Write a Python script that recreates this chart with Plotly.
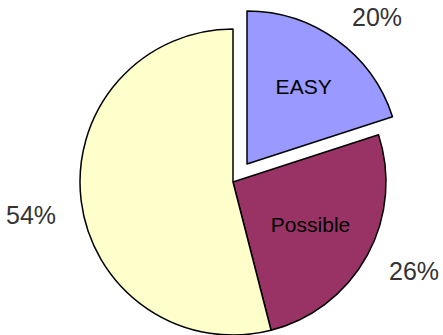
import math
import plotly.graph_objects as go

# Slice data
labels = ["EASY", "Possible", ""]
values = [20, 26, 54]
colors = ["#9999FF", "#993366", "#FFFFCC"]

W, H = 443, 335
CLEAR = "rgba(0,0,0,0)"
FONT = "Liberation Sans, Arial, sans-serif"

# Pie geometry in pixels: the main pie and the exploded first slice
R = 153
MAIN_C = (233, 182)
EXPLODE = (14, -18)
EXPLODED_C = (MAIN_C[0] + EXPLODE[0], MAIN_C[1] + EXPLODE[1])
HALF_W = 190
# horizontal / vertical distance of the percentage labels from the pie centre
LABEL_DX, LABEL_DY = 176, 158


def domain(center):
    cx, cy = center
    return dict(
        x=[(cx - HALF_W) / W, (cx + HALF_W) / W],
        y=[max(0, (H - cy - R) / H), min(1, (H - cy + R) / H)],
    )


def pick(idx, on, off):
    return [on if i in idx else off for i in range(len(values))]


common = dict(
    labels=labels,
    values=values,
    sort=False,
    direction="clockwise",
    rotation=0,
    showlegend=False,
    hoverinfo="skip",
    textinfo="text",
    textposition="inside",
    insidetextorientation="horizontal",
    insidetextfont=dict(family=FONT, size=21, color="#000000"),
)

fig = go.Figure()

# Main pie: "Possible" and the unlabelled slice
main_idx = {1, 2}
fig.add_trace(go.Pie(
    **common,
    domain=domain(MAIN_C),
    marker=dict(
        colors=[c if i in main_idx else CLEAR for i, c in enumerate(colors)],
        line=dict(color=pick(main_idx, "#000000", CLEAR), width=1.5),
    ),
    text=[l if i == 1 else "" for i, l in enumerate(labels)],
))

# Exploded "EASY" slice
fig.add_trace(go.Pie(
    **common,
    domain=domain(EXPLODED_C),
    marker=dict(
        colors=[c if i == 0 else CLEAR for i, c in enumerate(colors)],
        line=dict(color=pick({0}, "#000000", CLEAR), width=1.5),
    ),
    text=[l if i == 0 else "" for i, l in enumerate(labels)],
))

# Percentage labels outside each slice, placed along the slice's mid-angle
total = sum(values)
start = 0.0
for i, v in enumerate(values):
    frac = v / total
    theta = 2 * math.pi * (start + frac / 2)
    start += frac
    cx, cy = EXPLODED_C if i == 0 else MAIN_C
    sx, sy = math.sin(theta), -math.cos(theta)
    px = cx + LABEL_DX * sx
    py = cy + LABEL_DY * sy
    fig.add_annotation(
        x=px / W,
        y=1 - py / H,
        xref="paper",
        yref="paper",
        text=f"{frac * 100:.0f}%",
        showarrow=False,
        xanchor="left" if sx > 0 else "right",
        yanchor="top" if sy > 0 else "bottom",
        yshift=3,
        font=dict(family=FONT, size=25, color="#333333"),
    )

fig.update_layout(
    width=W,
    height=H,
    margin=dict(l=0, r=0, t=0, b=0),
    paper_bgcolor="#FFFFFF",
    plot_bgcolor="#FFFFFF",
    hovermode=False,
)

fig.write_html("out.html", config=dict(displayModeBar=False))
